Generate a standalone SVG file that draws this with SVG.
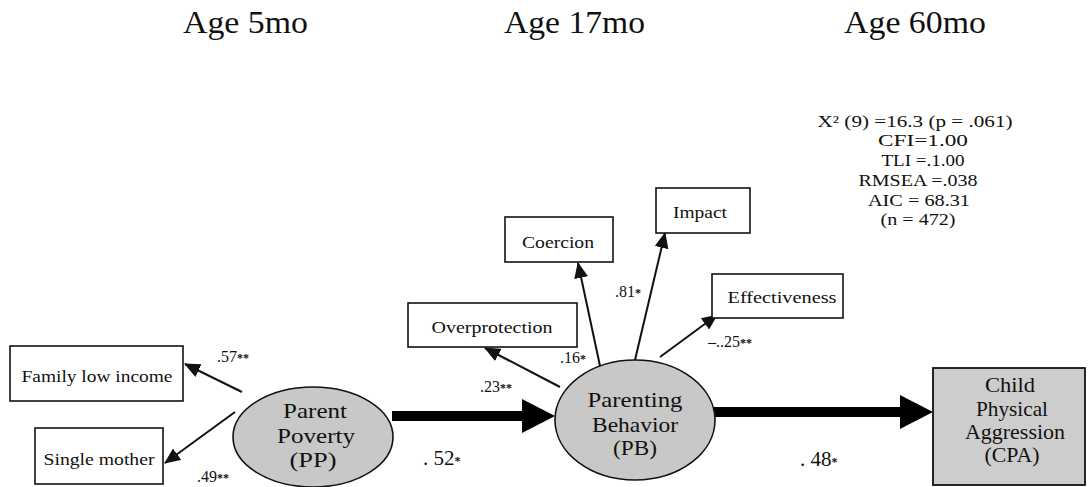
<svg xmlns="http://www.w3.org/2000/svg" width="1089" height="487" viewBox="0 0 1089 487">
  <style>
    text { font-family: "Liberation Serif", "DejaVu Serif", serif; fill: #111; }
    .title { font-size: 32px; }
    .stat { font-size: 16.5px; text-anchor: middle; }
    .box { fill: #fff; stroke: #111; stroke-width: 1.6; }
    .lat { fill: #c8c8c8; stroke: #111; stroke-width: 1.6; }
    .out { fill: #cdcdcd; stroke: #111; stroke-width: 1.8; }
    .bt { font-size: 16px; text-anchor: middle; }
    .lt { font-size: 21px; text-anchor: middle; }
    .lab { font-size: 16px; }
    .big { font-size: 21px; }
    .ast { font-size: 12px; font-weight: bold; }
    .thin { stroke: #111; stroke-width: 2; fill: none; marker-end: url(#ah); }
    .thick { stroke: #000; stroke-width: 10; fill: none; marker-end: url(#bh); }
  </style>
  <defs>
    <marker id="ah" markerUnits="userSpaceOnUse" viewBox="0 0 16 14" markerWidth="16" markerHeight="14" refX="15" refY="7" orient="auto">
      <path d="M0,0 L16,7 L0,14 z" fill="#111"/>
    </marker>
    <marker id="bh" markerUnits="userSpaceOnUse" viewBox="0 0 33 34" markerWidth="33" markerHeight="34" refX="0" refY="17" orient="auto">
      <path d="M0,0 L33,17 L0,34 z" fill="#000"/>
    </marker>
  </defs>

  <g id="titles">
    <text class="title" x="183" y="33" textLength="125" lengthAdjust="spacingAndGlyphs">Age 5mo</text>
    <text class="title" x="504" y="33" textLength="141" lengthAdjust="spacingAndGlyphs">Age 17mo</text>
    <text class="title" x="844" y="33" textLength="142" lengthAdjust="spacingAndGlyphs">Age 60mo</text>
  </g>

  <g id="fit-stats">
    <text class="stat" x="915" y="127" textLength="195" lengthAdjust="spacingAndGlyphs">X² (9) =16.3 (p = .061)</text>
    <text class="stat" x="923" y="146" textLength="90" lengthAdjust="spacingAndGlyphs">CFI=1.00</text>
    <text class="stat" x="923" y="166" textLength="83" lengthAdjust="spacingAndGlyphs">TLI =.1.00</text>
    <text class="stat" x="918" y="186" textLength="119" lengthAdjust="spacingAndGlyphs">RMSEA =.038</text>
    <text class="stat" x="919" y="206" textLength="102" lengthAdjust="spacingAndGlyphs">AIC = 68.31</text>
    <text class="stat" x="918" y="225" textLength="75" lengthAdjust="spacingAndGlyphs">(n = 472)</text>
  </g>

  <g id="connectors">
    <line class="thick" x1="392" y1="416" x2="522" y2="416"/>
    <line class="thick" x1="714" y1="412" x2="900" y2="412"/>
    <line class="thin" x1="242" y1="392" x2="185" y2="364"/>
    <line class="thin" x1="235" y1="412" x2="165" y2="463"/>
    <line class="thin" x1="560" y1="387" x2="485" y2="348"/>
    <line class="thin" x1="600" y1="366" x2="578" y2="263"/>
    <line class="thin" x1="635" y1="360" x2="665" y2="233"/>
    <line class="thin" x1="660" y1="357" x2="717" y2="315"/>
  </g>

  <g id="labels">
    <text class="lab" x="217" y="362">.57<tspan class="ast">**</tspan></text>
    <text class="lab" x="197" y="482">.49<tspan class="ast">**</tspan></text>
    <text class="lab" x="480" y="392">.23<tspan class="ast">**</tspan></text>
    <text class="lab" x="560" y="363">.16<tspan class="ast">*</tspan></text>
    <text class="lab" x="615" y="297">.81<tspan class="ast">*</tspan></text>
    <text class="lab" x="708" y="347">–..25<tspan class="ast">**</tspan></text>
    <text class="big" x="423" y="465">. 52<tspan class="ast">*</tspan></text>
    <text class="big" x="800" y="466">. 48<tspan class="ast">*</tspan></text>
  </g>

  <g id="family-low-income">
    <rect class="box" x="10" y="346" width="173" height="55"/>
    <text class="bt" x="97" y="382" textLength="151" lengthAdjust="spacingAndGlyphs">Family low income</text>
  </g>
  <g id="single-mother">
    <rect class="box" x="35" y="428" width="128" height="56"/>
    <text class="bt" x="99" y="465" textLength="111" lengthAdjust="spacingAndGlyphs">Single mother</text>
  </g>
  <g id="parent-poverty">
    <ellipse class="lat" cx="313" cy="437" rx="80" ry="50"/>
    <text class="lt" x="315" y="418" textLength="64" lengthAdjust="spacingAndGlyphs">Parent</text>
    <text class="lt" x="316" y="443" textLength="78" lengthAdjust="spacingAndGlyphs">Poverty</text>
    <text class="lt" x="313" y="467" textLength="47" lengthAdjust="spacingAndGlyphs">(PP)</text>
  </g>
  <g id="overprotection">
    <rect class="box" x="408" y="303" width="169" height="44"/>
    <text class="bt" x="492" y="333" textLength="121" lengthAdjust="spacingAndGlyphs">Overprotection</text>
  </g>
  <g id="coercion">
    <rect class="box" x="505" y="217" width="108" height="45"/>
    <text class="bt" x="558" y="248" textLength="72" lengthAdjust="spacingAndGlyphs">Coercion</text>
  </g>
  <g id="impact">
    <rect class="box" x="656" y="188" width="94" height="45"/>
    <text class="bt" x="700" y="218" textLength="54" lengthAdjust="spacingAndGlyphs">Impact</text>
  </g>
  <g id="effectiveness">
    <rect class="box" x="712" y="274" width="131" height="44"/>
    <text class="bt" x="782" y="303" textLength="109" lengthAdjust="spacingAndGlyphs">Effectiveness</text>
  </g>
  <g id="parenting-behavior">
    <ellipse class="lat" cx="635" cy="420" rx="80" ry="60"/>
    <text class="lt" x="635" y="407" textLength="95" lengthAdjust="spacingAndGlyphs">Parenting</text>
    <text class="lt" x="635" y="432" textLength="86" lengthAdjust="spacingAndGlyphs">Behavior</text>
    <text class="lt" x="635" y="455" textLength="44" lengthAdjust="spacingAndGlyphs">(PB)</text>
  </g>
  <g id="child-physical-aggression">
    <rect class="out" x="933" y="368" width="152" height="117"/>
    <text class="lt" x="1010" y="392" textLength="50" lengthAdjust="spacingAndGlyphs">Child</text>
    <text class="lt" x="1012" y="416" textLength="72" lengthAdjust="spacingAndGlyphs">Physical</text>
    <text class="lt" x="1015" y="439" textLength="100" lengthAdjust="spacingAndGlyphs">Aggression</text>
    <text class="lt" x="1012" y="462" textLength="55" lengthAdjust="spacingAndGlyphs">(CPA)</text>
  </g>
</svg>
